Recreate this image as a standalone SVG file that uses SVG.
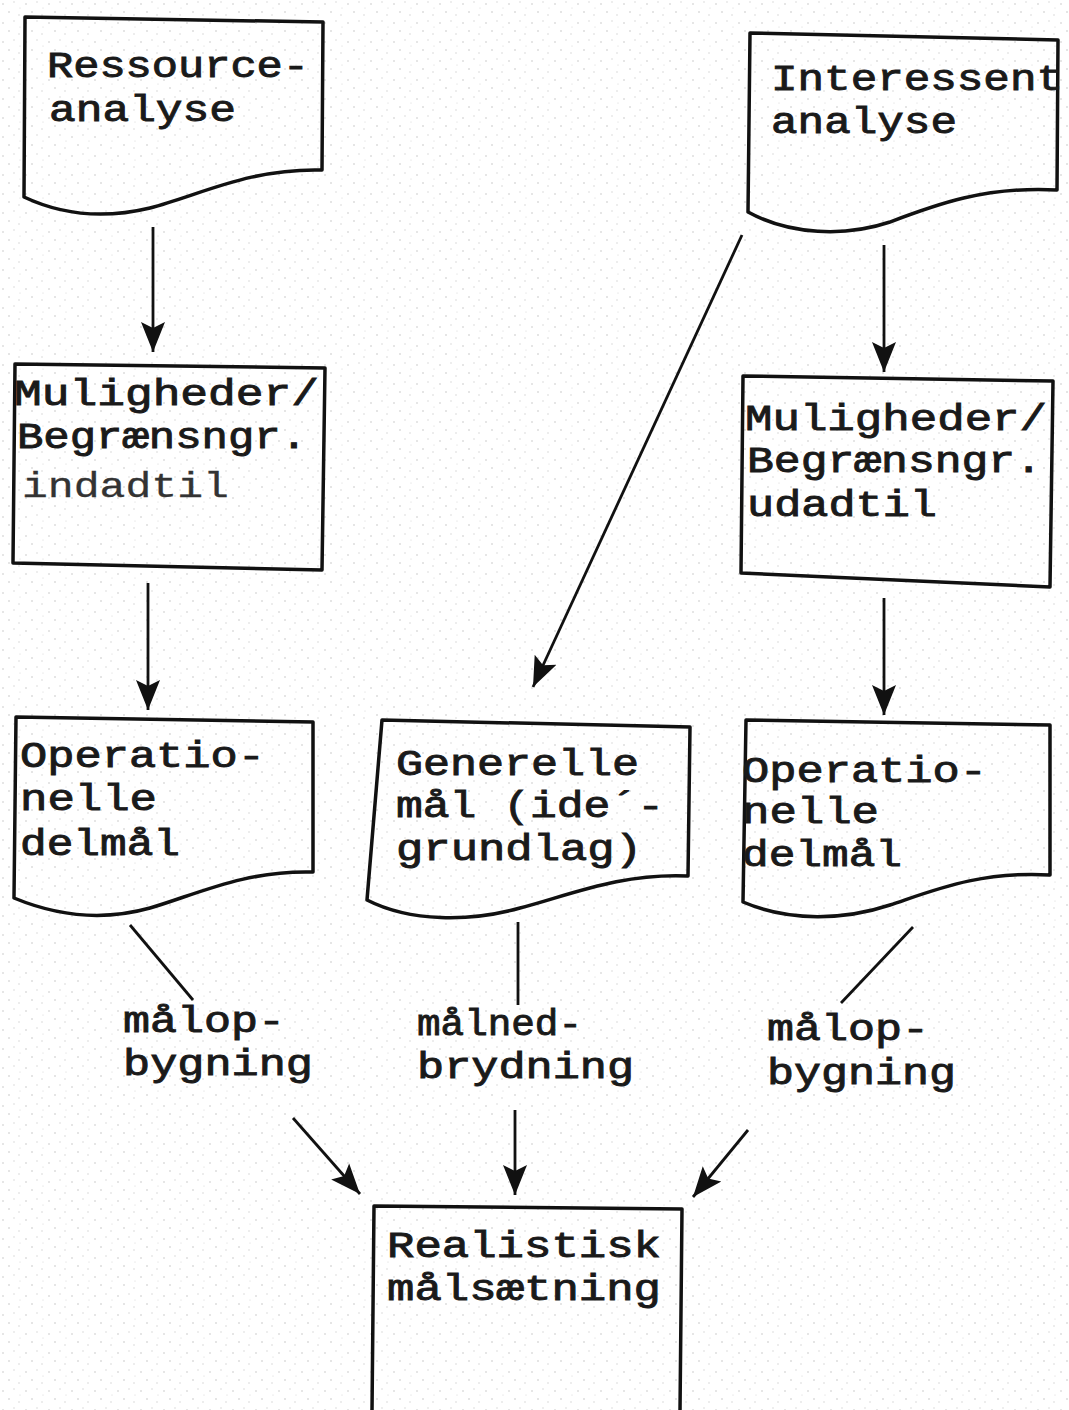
<svg xmlns="http://www.w3.org/2000/svg" width="1069" height="1410" viewBox="0 0 1069 1410">
<defs>
<pattern id="grain" width="23" height="19" patternUnits="userSpaceOnUse">
<rect width="23" height="19" fill="#ffffff"/>
<circle cx="3" cy="4" r="0.8" fill="#c8c8c8"/>
<circle cx="14" cy="2" r="0.7" fill="#d2d2d2"/>
<circle cx="9" cy="12" r="0.8" fill="#c4c4c4"/>
<circle cx="19" cy="15" r="0.7" fill="#cfcfcf"/>
<circle cx="20" cy="8" r="0.6" fill="#d6d6d6"/>
</pattern>
<marker id="ah" markerUnits="userSpaceOnUse" markerWidth="30" markerHeight="30" viewBox="0 0 30 24" refX="30" refY="12" orient="auto">
<path d="M0,0 L30,12 L0,24 L6,12 Z" fill="#111"/>
</marker>
<style>
.box{fill:none;stroke:#111;stroke-width:3.5;stroke-linejoin:round}
.ln{fill:none;stroke:#111;stroke-width:2.8}
.t{font-family:"Liberation Mono","Courier New",monospace;font-size:36px;fill:#1a1a1a;stroke:#1a1a1a;stroke-width:0.9}
.ts{font-family:"Liberation Mono","Courier New",monospace;font-size:35px;fill:#333;stroke:#333;stroke-width:0.3}
</style>
</defs>
<rect width="1069" height="1410" fill="url(#grain)"/>

<g id="connectors">
<line class="ln" x1="153" y1="227" x2="153" y2="352" marker-end="url(#ah)"/>
<line class="ln" x1="148" y1="583" x2="148" y2="710" marker-end="url(#ah)"/>
<line class="ln" x1="884" y1="245" x2="884" y2="372" marker-end="url(#ah)"/>
<line class="ln" x1="884" y1="598" x2="884" y2="715" marker-end="url(#ah)"/>
<line class="ln" x1="742" y1="235" x2="533" y2="687" marker-end="url(#ah)"/>
<line class="ln" x1="130" y1="925" x2="193" y2="1000"/>
<line class="ln" x1="518" y1="922" x2="518" y2="1005"/>
<line class="ln" x1="913" y1="927" x2="841" y2="1003"/>
<line class="ln" x1="293" y1="1118" x2="360" y2="1194" marker-end="url(#ah)"/>
<line class="ln" x1="515" y1="1110" x2="515" y2="1195" marker-end="url(#ah)"/>
<line class="ln" x1="748" y1="1130" x2="693" y2="1197" marker-end="url(#ah)"/>
</g>

<g id="n-ressource">
<path class="box" d="M25,17 L323,22 L322,170 C250,168 200,195 150,208 C100,220 60,214 24,197 Z"/>
<text class="t" x="47" y="77" textLength="262" lengthAdjust="spacingAndGlyphs">Ressource-</text>
<text class="t" x="49" y="121" textLength="187" lengthAdjust="spacingAndGlyphs">analyse</text>
</g>

<g id="n-interessent">
<path class="box" d="M750,33 L1058,40 L1057,190 C985,186 935,205 890,222 C845,237 790,235 748,212 Z"/>
<text class="t" x="771" y="90" textLength="292" lengthAdjust="spacingAndGlyphs">Interessent</text>
<text class="t" x="771" y="133" textLength="186" lengthAdjust="spacingAndGlyphs">analyse</text>
</g>

<g id="n-mul-ind">
<path class="box" d="M15,364 L325,368 L322,570 L13,563 Z"/>
<text class="t" x="14" y="405" textLength="305" lengthAdjust="spacingAndGlyphs">Muligheder/</text>
<text class="t" x="17" y="448" textLength="290" lengthAdjust="spacingAndGlyphs">Begrænsngr.</text>
<text class="ts" x="22" y="497" textLength="207" lengthAdjust="spacingAndGlyphs">indadtil</text>
</g>

<g id="n-mul-ud">
<path class="box" d="M743,376 L1053,381 L1050,587 L741,573 Z"/>
<text class="t" x="745" y="430" textLength="302" lengthAdjust="spacingAndGlyphs">Muligheder/</text>
<text class="t" x="747" y="472" textLength="295" lengthAdjust="spacingAndGlyphs">Begrænsngr.</text>
<text class="t" x="747" y="516" textLength="190" lengthAdjust="spacingAndGlyphs">udadtil</text>
</g>

<g id="n-oper-l">
<path class="box" d="M16,717 L313,722 L313,872 C245,870 195,895 150,908 C100,922 55,915 14,898 Z"/>
<text class="t" x="20" y="767" textLength="245" lengthAdjust="spacingAndGlyphs">Operatio-</text>
<text class="t" x="20" y="810" textLength="137" lengthAdjust="spacingAndGlyphs">nelle</text>
<text class="t" x="20" y="855" textLength="160" lengthAdjust="spacingAndGlyphs">delmål</text>
</g>

<g id="n-generelle">
<path class="box" d="M382,720 L690,727 L688,876 C620,873 570,895 520,908 C470,922 410,922 367,900 Z"/>
<text class="t" x="396" y="775" textLength="243" lengthAdjust="spacingAndGlyphs">Generelle</text>
<text class="t" x="396" y="817" textLength="268" lengthAdjust="spacingAndGlyphs">mål (ide´-</text>
<text class="t" x="396" y="860" textLength="246" lengthAdjust="spacingAndGlyphs">grundlag)</text>
</g>

<g id="n-oper-r">
<path class="box" d="M746,720 L1050,725 L1050,875 C980,871 935,890 890,905 C845,920 790,922 743,902 Z"/>
<text class="t" x="742" y="782" textLength="245" lengthAdjust="spacingAndGlyphs">Operatio-</text>
<text class="t" x="742" y="823" textLength="137" lengthAdjust="spacingAndGlyphs">nelle</text>
<text class="t" x="742" y="866" textLength="160" lengthAdjust="spacingAndGlyphs">delmål</text>
</g>

<g id="labels">
<text class="t" x="123" y="1032" textLength="162" lengthAdjust="spacingAndGlyphs">målop-</text>
<text class="t" x="123" y="1075" textLength="190" lengthAdjust="spacingAndGlyphs">bygning</text>
<text class="t" x="417" y="1035" textLength="165" lengthAdjust="spacingAndGlyphs">målned-</text>
<text class="t" x="417" y="1078" textLength="217" lengthAdjust="spacingAndGlyphs">brydning</text>
<text class="t" x="767" y="1040" textLength="162" lengthAdjust="spacingAndGlyphs">målop-</text>
<text class="t" x="767" y="1084" textLength="189" lengthAdjust="spacingAndGlyphs">bygning</text>
</g>

<g id="n-realistisk">
<path class="box" d="M374,1206 L682,1209 L680,1412 L372,1412 Z"/>
<text class="t" x="387" y="1257" textLength="274" lengthAdjust="spacingAndGlyphs">Realistisk</text>
<text class="t" x="387" y="1300" textLength="274" lengthAdjust="spacingAndGlyphs">målsætning</text>
</g>
</svg>
